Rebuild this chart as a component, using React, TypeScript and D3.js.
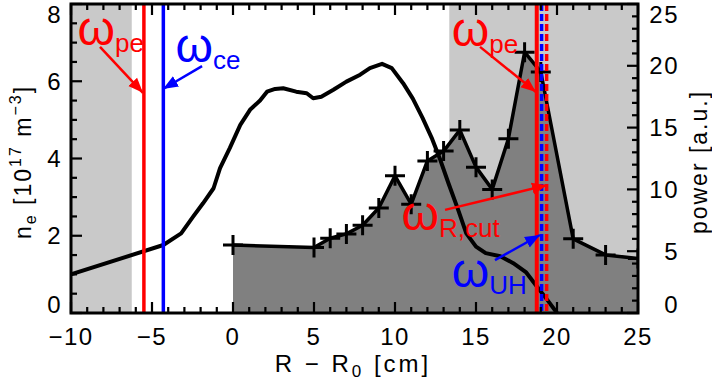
import React from 'react';
import * as d3 from 'd3';

// ---------- data ----------
const neR = [-10, -4.3, -3.2, -2.45, -1.85, -1.2, -0.8, -0.2, 0.45, 1.05, 1.67, 2.1, 2.6, 3.1, 3.9, 4.55, 4.95, 5.45, 6.2, 7.0, 7.85, 8.45, 9.2, 9.8, 10.5, 11.1, 11.7, 12.3, 12.8, 13.3, 13.9, 14.4, 15.0, 15.6, 16.5, 17.3, 18.1, 18.7, 19.4, 20.0];
const neVal = [1.0, 1.76, 2.06, 2.5, 2.84, 3.23, 3.75, 4.27, 4.87, 5.26, 5.5, 5.73, 5.8, 5.82, 5.73, 5.69, 5.56, 5.6, 5.78, 5.99, 6.17, 6.34, 6.45, 6.34, 5.95, 5.55, 5.05, 4.5, 3.96, 3.36, 2.67, 2.06, 1.72, 1.55, 1.47, 1.29, 1.05, 0.72, 0.34, 0.0];

const powR = [0, 5, 6, 7, 8, 9, 10, 11, 12, 13, 14, 15, 16, 17, 18, 19, 21, 23, 25];
const powVal = [5.5, 5.3, 6.05, 6.4, 7.1, 8.5, 11.1, 8.8, 12.3, 13.1, 14.8, 11.8, 10.0, 14.1, 21.1, 19.5, 6.0, 4.7, 4.4];

const xTicks = [-10, -5, 0, 5, 10, 15, 20, 25];
const xTickLabels = ['\u221210', '\u22125', '0', '5', '10', '15', '20', '25'];
const neTicks = [0, 2, 4, 6, 8];
const powTicks = [0, 5, 10, 15, 20, 25];

const shadeLeft = [-10, -6.25];
const shadeRight = [13.35, 25];

const lineLeftPe = -5.5;
const lineLeftCe = -4.3;
const lineRightPe = 18.75;
const lineRightUH = 19.05;
const lineRightCut = 19.36;

// annotations in data coordinates (R, n_e)
const annotations = [
  { sym: '\u03c9', sub: 'pe', color: 'red', x: -9.6, y: 6.94, a1: [-8.21, 6.89], a2: [-5.56, 5.70] },
  { sym: '\u03c9', sub: 'ce', color: 'blue', x: -3.55, y: 6.5, a1: [-1.91, 6.39], a2: [-4.32, 5.80] },
  { sym: '\u03c9', sub: 'pe', color: 'red', x: 13.5, y: 6.9, a1: [15.25, 6.89], a2: [18.7, 5.72] },
  { sym: '\u03c9', sub: 'R,cut', color: 'red', x: 10.4, y: 2.14, a1: [13.09, 2.67], a2: [19.38, 3.31] },
  { sym: '\u03c9', sub: 'UH', color: 'blue', x: 13.5, y: 0.68, a1: [16.17, 1.37], a2: [18.95, 2.02] },
];

// ---------- layout ----------
const W = 712, H = 382;
const X0 = 71, X1 = 638, Y0 = 4, Y1 = 313;
const FONT = '"Liberation Sans", Arial, Helvetica, sans-serif';
const LIGHT = '#c9c9c9';
const DARK = '#808080';

export default function App() {
  const sx = d3.scaleLinear().domain([-10, 25]).range([X0, X1]);
  const syL = d3.scaleLinear().domain([0, 8]).range([Y1, Y0]);
  const syR = d3.scaleLinear().domain([0, 25]).range([Y1, Y0]);

  const neData = neR.map((r, i) => [r, neVal[i]] as [number, number]);
  const powData = powR.map((r, i) => [r, powVal[i]] as [number, number]);

  const neLine = d3.line<[number, number]>().x(d => sx(d[0])).y(d => syL(d[1]));
  const powLine = d3.line<[number, number]>().x(d => sx(d[0])).y(d => syR(d[1]));
  const powArea = d3.area<[number, number]>().x(d => sx(d[0])).y0(syR(0)).y1(d => syR(d[1]));

  const xMinor = d3.range(-10, 25.01, 1);
  const neMinor = d3.range(0, 8.01, 0.5);
  const powMinor = d3.range(0, 25.01, 1);

  const MAJ = 11, MIN = 6;
  const tickStroke = 2.2;

  const labelY = (y: number) => Math.max(Y0 + 10, Math.min(Y1 - 9, y));

  return (
    <svg width={W} height={H} style={{ position: 'absolute', left: 0, top: 0, background: '#fff' }} fontFamily={FONT}>
      <defs>
        <clipPath id="plot">
          <rect x={X0} y={Y0} width={X1 - X0} height={Y1 - Y0} />
        </clipPath>
        <marker id="ahred" markerUnits="userSpaceOnUse" markerWidth={16} markerHeight={14} refX={15} refY={7} orient="auto">
          <path d="M0,1 L15,7 L0,13 Z" fill="red" />
        </marker>
        <marker id="ahblue" markerUnits="userSpaceOnUse" markerWidth={16} markerHeight={14} refX={15} refY={7} orient="auto">
          <path d="M0,1 L15,7 L0,13 Z" fill="blue" />
        </marker>
      </defs>

      <g clipPath="url(#plot)">
        {/* shaded regions */}
        <rect x={sx(shadeLeft[0])} y={Y0} width={sx(shadeLeft[1]) - sx(shadeLeft[0])} height={Y1 - Y0} fill={LIGHT} />
        <rect x={sx(shadeRight[0])} y={Y0} width={sx(shadeRight[1]) - sx(shadeRight[0])} height={Y1 - Y0} fill={LIGHT} />

        {/* power fill */}
        <path d={powArea(powData) || ''} fill={DARK} />
        <path d={powLine(powData) || ''} fill="none" stroke="#000" strokeWidth={3.5} strokeLinejoin="round" />
        {powData.map((d, i) => (
          <path key={i} d={`M${sx(d[0]) - 10},${syR(d[1])}h20M${sx(d[0])},${syR(d[1]) - 10}v20`} stroke="#000" strokeWidth={3} />
        ))}

        {/* density */}
        <path d={neLine(neData) || ''} fill="none" stroke="#000" strokeWidth={4} strokeLinejoin="round" />

        {/* vertical lines */}
        <line x1={sx(lineLeftPe)} x2={sx(lineLeftPe)} y1={Y0} y2={Y1} stroke="red" strokeWidth={3.5} />
        <line x1={sx(lineLeftCe)} x2={sx(lineLeftCe)} y1={Y0} y2={Y1} stroke="blue" strokeWidth={3.5} />
        <line x1={sx(lineRightPe)} x2={sx(lineRightPe)} y1={Y0} y2={Y1} stroke="red" strokeWidth={4} />
        <line x1={sx(lineRightUH)} x2={sx(lineRightUH)} y1={Y0} y2={Y1} stroke="blue" strokeWidth={3.5} strokeDasharray="7,3" />
        <line x1={sx(lineRightCut)} x2={sx(lineRightCut)} y1={Y0} y2={Y1} stroke="red" strokeWidth={3.5} strokeDasharray="7,3" />

        {/* annotation arrows */}
        {annotations.map((a, i) => (
          <line key={i} x1={sx(a.a1[0])} y1={syL(a.a1[1])} x2={sx(a.a2[0])} y2={syL(a.a2[1])} stroke={a.color} strokeWidth={2.5}
            markerEnd={`url(#ah${a.color})`} />
        ))}
      </g>

      {/* annotation labels */}
      {annotations.map((a, i) => (
        <text key={'t' + i} x={sx(a.x)} y={syL(a.y)} fill={a.color} fontSize={48}>
          {a.sym}
          <tspan fontSize={26} dy={7}>{a.sub}</tspan>
        </text>
      ))}

      {/* ticks */}
      <g stroke="#000" strokeWidth={tickStroke}>
        {xMinor.map((v, i) => {
          const major = xTicks.includes(v);
          const L = major ? MAJ : MIN;
          return (
            <g key={'x' + i}>
              <line x1={sx(v)} x2={sx(v)} y1={Y1} y2={Y1 - L} />
              <line x1={sx(v)} x2={sx(v)} y1={Y0} y2={Y0 + L} />
            </g>
          );
        })}
        {neMinor.map((v, i) => {
          const L = neTicks.includes(v) ? MAJ : MIN;
          return <line key={'l' + i} x1={X0} x2={X0 + L} y1={syL(v)} y2={syL(v)} />;
        })}
        {powMinor.map((v, i) => {
          const L = powTicks.includes(v) ? MAJ : MIN;
          return <line key={'r' + i} x1={X1} x2={X1 - L} y1={syR(v)} y2={syR(v)} />;
        })}
      </g>

      {/* frame */}
      <rect x={X0} y={Y0} width={X1 - X0} height={Y1 - Y0} fill="none" stroke="#000" strokeWidth={3} />

      {/* tick labels */}
      <g fontSize={24} fill="#000" letterSpacing={1.5}>
        {xTicks.map((v, i) => (
          <text key={'xl' + i} x={sx(v)} y={345} textAnchor="middle">{xTickLabels[i]}</text>
        ))}
        {neTicks.map((v, i) => (
          <text key={'ll' + i} x={62} y={labelY(syL(v)) + 8.5} textAnchor="end">{String(v)}</text>
        ))}
        {powTicks.map((v, i) => (
          <text key={'rl' + i} x={679} y={labelY(syR(v)) + 8.5} textAnchor="end">{String(v)}</text>
        ))}
      </g>

      {/* axis titles */}
      <text x={353} y={372} fontSize={24} textAnchor="middle" letterSpacing={3} xmlSpace="preserve">
        R {'\u2212'} R<tspan fontSize={17} dy={5}>0</tspan><tspan dy={-5}> [cm]</tspan>
      </text>
      <text transform="translate(31,162) rotate(-90)" fontSize={23} textAnchor="middle" letterSpacing={2}>
        n<tspan fontSize={16} dy={5}>e</tspan><tspan dy={-5}> [10</tspan><tspan fontSize={16} dy={-10}>17</tspan><tspan dy={10}> m</tspan><tspan fontSize={16} dy={-10}>{'\u22123'}</tspan><tspan dy={10}>]</tspan>
      </text>
      <text transform="translate(707,162) rotate(-90)" fontSize={23} textAnchor="middle" letterSpacing={2}>
        power [a.u.]
      </text>
    </svg>
  );
}
